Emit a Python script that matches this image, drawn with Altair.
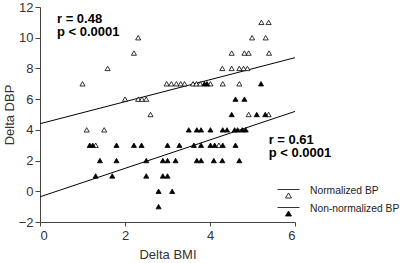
import altair as alt
import pandas as pd

# ---- data ----
norm_x = [1.00, 1.10, 1.31, 1.51, 1.59, 2.00, 2.21, 2.31, 2.31, 2.40, 2.50, 2.60,
          2.98, 3.09, 3.21, 3.31, 3.40, 3.60, 3.68, 3.77, 4.01, 4.30, 4.69, 4.21,
          4.29, 4.51, 4.69, 4.79, 4.88, 4.51, 4.81, 4.91, 5.39, 4.99, 5.31, 5.21,
          5.38, 4.91, 5.38]
norm_y = [7, 4, 3, 4, 8, 6, 9, 10, 6, 6, 6, 5,
          7, 7, 7, 7, 7, 7, 7, 7, 7, 7, 7, 3,
          8, 8, 8, 8, 8, 9, 9, 9, 9, 10, 10, 11,
          11, 5, 5]

non_x = [3.87, 3.93, 5.20,
         4.60, 4.81,
         4.51, 5.10, 5.30,
         3.50, 3.69, 3.79, 4.01, 4.30, 4.40, 4.58, 4.65, 4.76, 4.84,
         1.17, 1.24, 1.80, 2.21, 2.39, 3.00, 3.28, 3.62, 3.79, 4.01, 4.11, 4.30, 4.60,
         1.41, 1.80, 2.50, 2.89, 3.00, 3.19, 3.69, 3.79, 4.09, 4.29, 4.69,
         1.31, 1.70, 2.50, 2.89, 3.00,
         2.79, 3.11,
         2.79]
non_y = [7, 7, 7,
         6, 6,
         5, 5, 5,
         4, 4, 4, 4, 4, 4, 4, 4, 4, 4,
         3, 3, 3, 3, 3, 3, 3, 3, 3, 3, 3, 3, 3,
         2, 2, 2, 2, 2, 2, 2, 2, 2, 2, 2,
         1, 1, 1, 1, 1,
         0, 0,
         -1]

series_names = ["Normalized BP", "Non-normalized BP"]

fit_x = [0, 6]
norm_fit_y = [4.4, 8.7]
non_fit_y = [-0.36, 5.2]

ann_text = ["r = 0.48", "p < 0.0001", "r = 0.61", "p < 0.0001"]
ann_x = [0.40, 0.40, 5.38, 5.38]
ann_y = [11.25, 10.35, 3.33, 2.48]

x_ticks = [0, 2, 4, 6]
y_ticks = [-2, 0, 2, 4, 6, 8, 10, 12]

# ---- tables ----
pts = pd.DataFrame({
    "bmi": norm_x + non_x,
    "dbp": norm_y + non_y,
    "group": [series_names[0]] * len(norm_x) + [series_names[1]] * len(non_x),
})
fits = pd.DataFrame({
    "bmi": fit_x + fit_x,
    "dbp": norm_fit_y + non_fit_y,
    "group": [series_names[0]] * 2 + [series_names[1]] * 2,
})
ann = pd.DataFrame({"t": ann_text, "x": ann_x, "y": ann_y})

FONT = "Liberation Sans"
xscale = alt.Scale(domain=[0, 6], nice=False, zero=False)
yscale = alt.Scale(domain=[-2, 12], nice=False, zero=False)

xaxis = alt.Axis(values=x_ticks, title="Delta BMI", grid=False, tickSize=4,
                 labelPadding=3, titlePadding=6, titleFontWeight="normal")
yaxis = alt.Axis(values=y_ticks, title="Delta DBP", grid=False, tickSize=5,
                 labelPadding=2, titlePadding=2, titleFontWeight="normal")

legend_path = "M-1.375,-0.125L1.375,-0.125M0,0.31L0.375,0.94L-0.375,0.94Z"

lines = alt.Chart(fits).mark_line(color="black", strokeWidth=1).encode(
    x=alt.X("bmi:Q", scale=xscale, axis=xaxis),
    y=alt.Y("dbp:Q", scale=yscale, axis=yaxis),
    detail="group:N",
)

points = alt.Chart(pts).mark_point(shape="triangle-up", size=26, filled=True,
                                   stroke="black", strokeWidth=0.8, opacity=1).encode(
    x=alt.X("bmi:Q", scale=xscale, axis=xaxis),
    y=alt.Y("dbp:Q", scale=yscale, axis=yaxis),
    fill=alt.Fill("group:N",
                  scale=alt.Scale(domain=series_names, range=["white", "black"]),
                  legend=alt.Legend(title=None, orient="none", legendX=240, legendY=175,
                                    symbolType=legend_path, symbolSize=256,
                                    symbolStrokeColor="black", symbolStrokeWidth=0.8,
                                    labelFont=FONT, labelFontSize=10.3, labelColor="#222",
                                    labelOffset=13, rowPadding=0, padding=0,
                                    labelLimit=200)),
)

texts = alt.Chart(ann).mark_text(align="left", baseline="middle", font=FONT,
                                 fontSize=13, fontWeight="bold", color="black").encode(
    x=alt.X("x:Q", scale=xscale, axis=xaxis),
    y=alt.Y("y:Q", scale=yscale, axis=yaxis),
    text="t:N",
)

chart = alt.layer(lines, points, texts).properties(
    width=255, height=215,
    background="white",
    autosize=alt.AutoSizeParams(type="none"),
    padding={"left": 40, "top": 7, "right": 108, "bottom": 41},
).configure_view(stroke=None).configure_axis(
    domainColor="#444", tickColor="#444", labelColor="#333", titleColor="#333",
    labelFont=FONT, titleFont=FONT, labelFontSize=13, titleFontSize=13,
    titleFontWeight="normal", domainWidth=1,
)

chart.save("out.html", embed_options={"renderer": "svg", "actions": False})
